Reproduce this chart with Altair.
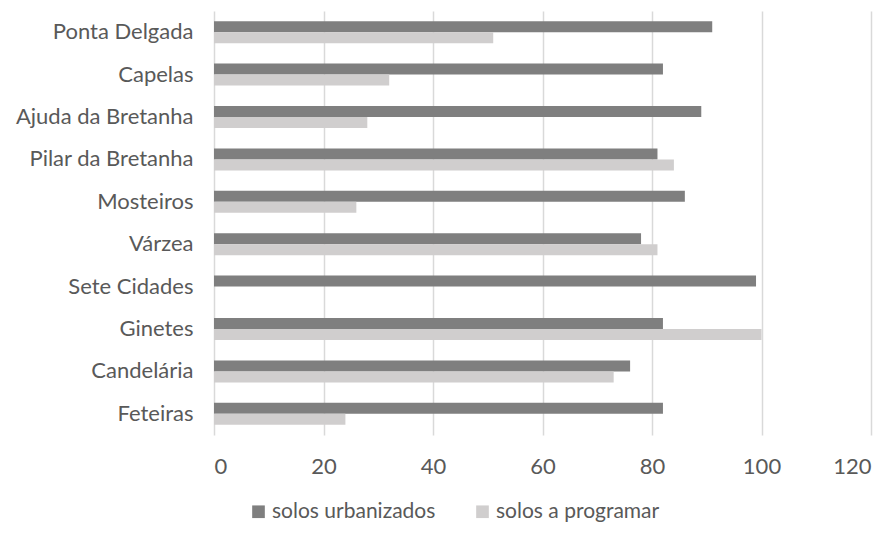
import altair as alt
import pandas as pd

categories = ["Ponta Delgada", "Capelas", "Ajuda da Bretanha", "Pilar da Bretanha",
              "Mosteiros", "Várzea", "Sete Cidades", "Ginetes", "Candelária", "Feteiras"]
urbanizados = [91, 82, 89, 81, 86, 78, 99, 82, 76, 82]
a_programar = [51, 32, 28, 84, 26, 81, 0, 100, 73, 24]
series = ["solos urbanizados", "solos a programar"]
colors = ["#7f7f7f", "#d0cece"]
x_ticks = [0, 20, 40, 60, 80, 100, 120]

rows = []
for c, u, p in zip(categories, urbanizados, a_programar):
    rows.append({"cat": c, "serie": series[0], "v": u})
    rows.append({"cat": c, "serie": series[1], "v": p})
df = pd.DataFrame(rows)

FONT = "Lato"
LABEL = "#595959"

chart = alt.Chart(df).mark_bar().encode(
    y=alt.Y("cat:N", sort=categories, title=None,
            scale=alt.Scale(paddingInner=0.48, paddingOuter=0.24),
            axis=alt.Axis(ticks=False, domain=False, grid=False, labelPadding=21,
                          labelFontSize=22, labelColor=LABEL, labelFont=FONT, labelLimit=0)),
    yOffset=alt.YOffset("serie:N", sort=series, scale=alt.Scale(paddingInner=0, paddingOuter=0)),
    x=alt.X("v:Q", title=None, scale=alt.Scale(domain=[0, 120], nice=False),
            axis=alt.Axis(values=x_ticks, ticks=False, domain=False, grid=True,
                          gridColor="#d9d9d9", gridWidth=1.5, labelPadding=21,
                          labelFontSize=22, labelColor=LABEL, labelFont=FONT)),
    color=alt.Color("serie:N", sort=series,
                    scale=alt.Scale(domain=series, range=colors),
                    legend=alt.Legend(title=None, orient="none", legendX=34, legendY=490,
                                      direction="horizontal", symbolType="square",
                                      symbolSize=160, symbolStrokeWidth=0,
                                      labelFontSize=21, labelColor=LABEL, labelFont=FONT,
                                      labelLimit=0, labelOffset=3, columnPadding=36)),
).properties(
    width=657, height=424,
    autosize=alt.AutoSizeParams(type="none"),
    padding={"left": 206, "top": 3, "right": 16, "bottom": 91},
).configure_view(stroke=None)

chart.save("out.html", embed_options={"renderer": "svg", "actions": False})
